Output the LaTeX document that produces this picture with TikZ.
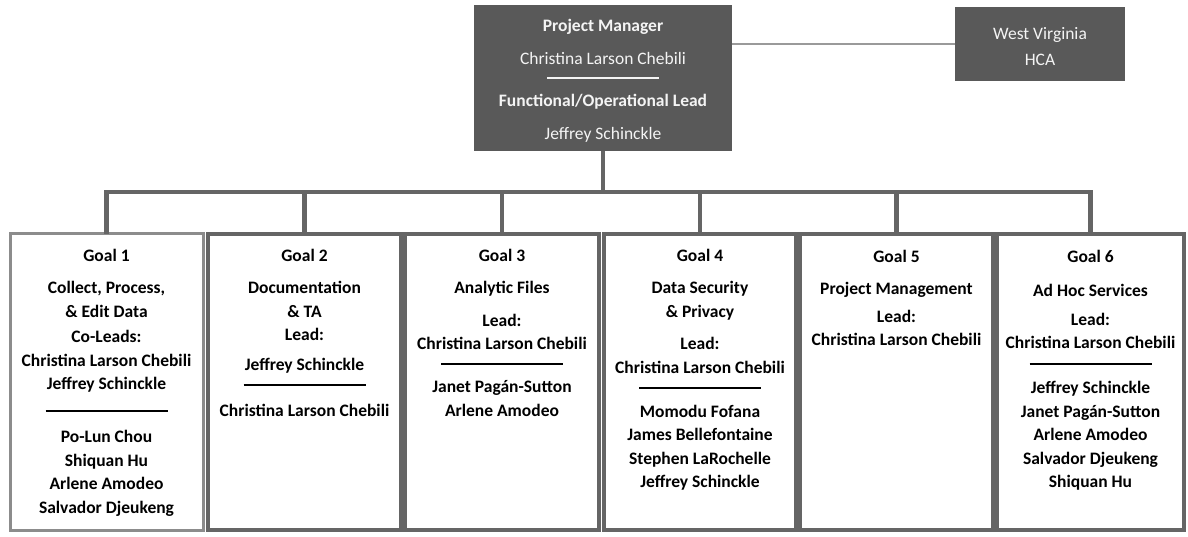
\documentclass[tikz,border=0pt]{standalone}
\usepackage{fontspec}
\setmainfont{Carlito}
\definecolor{boxfill}{HTML}{595959}
\definecolor{boxtext}{HTML}{F4F4F4}
\definecolor{frame}{HTML}{656565}
\definecolor{framelight}{HTML}{8C8C8C}
\definecolor{wire}{HTML}{9A9A9A}
% separator rule under a goal's lead(s)
\newcommand\grule{\rule[4pt]{122pt}{2pt}}
\begin{document}
\begin{tikzpicture}[x=1pt,y=-1pt,
  darkbox/.style={fill=boxfill, text=boxtext, inner sep=0pt, outer sep=0pt, align=center},
  goalbox/.style={draw=frame, line width=4pt, inner sep=0pt, outer sep=0pt, minimum height=296pt},
  goaltext/.style={anchor=north, align=center, inner sep=0pt, text=black,
                   font=\fontsize{17.5}{23.5}\selectfont\bfseries},
  link/.style={draw=frame, line width=4.5pt},
  wvlink/.style={draw=wire, line width=2pt}]
\useasboundingbox (0,0) rectangle (1188,537);

% management boxes
\node[darkbox, minimum width=258pt, minimum height=146pt,
      font=\fontsize{17.5}{33}\selectfont] (pm) at (603,78)
  {\rule{0pt}{18.5pt}\textbf{Project Manager}\\
   Christina Larson Chebili\\[-15pt]
   \rule[4pt]{112pt}{1.8pt}\\[-9pt]
   \textbf{Functional/Operational Lead}\\
   Jeffrey Schinckle};
\node[darkbox, minimum width=170pt, minimum height=74pt,
      font=\fontsize{17.5}{26}\selectfont] (wv) at (1040,44)
  {\rule{0pt}{16.5pt}West Virginia\\HCA};

% goal boxes
\node[goalbox, draw=framelight, line width=3pt, minimum width=193pt] (g1) at (106.5,382) {};
\node[goalbox, minimum width=193pt] (g2) at (304.5,382) {};
\node[goalbox, minimum width=194pt] (g3) at (502,382) {};
\node[goalbox, minimum width=192pt] (g4) at (700,382) {};
\node[goalbox, minimum width=193pt] (g5) at (896.5,382) {};
\node[goalbox, minimum width=187pt] (g6) at (1090.5,382) {};

% goal texts
\node[goaltext] (t1) at ([yshift=-15pt]g1.north)
  {Goal 1\\[9pt]
   Collect, Process,\\
   \& Edit Data\\[2pt]
   Co-Leads:\\
   Christina Larson Chebili\\
   Jeffrey Schinckle\\[3pt]
   \grule\\[3pt]
   Po-Lun Chou\\
   Shiquan Hu\\
   Arlene Amodeo\\
   Salvador Djeukeng};
\node[goaltext] (t2) at ([yshift=-15pt]g2.north)
  {Goal 2\\[9pt]
   Documentation\\
   \& TA\\
   Lead:\\[6pt]
   Jeffrey Schinckle\\[-4pt]
   \grule\\[3pt]
   Christina Larson Chebili};
\node[goaltext] (t3) at ([yshift=-15pt]g3.north)
  {Goal 3\\[9pt]
   Analytic Files\\[9pt]
   Lead:\\
   Christina Larson Chebili\\[-4pt]
   \grule\\[0pt]
   Janet Pagán-Sutton\\
   Arlene Amodeo};
\node[goaltext] (t4) at ([yshift=-15pt]g4.north)
  {Goal 4\\[9pt]
   Data Security\\
   \& Privacy\\[9pt]
   Lead:\\
   Christina Larson Chebili\\[-4pt]
   \grule\\[1pt]
   Momodu Fofana\\
   James Bellefontaine\\
   Stephen LaRochelle\\
   Jeffrey Schinckle};
\node[goaltext] (t5) at ([yshift=-16pt]g5.north)
  {Goal 5\\[9pt]
   Project Management\\[4pt]
   Lead:\\
   Christina Larson Chebili};
\node[goaltext] (t6) at ([yshift=-16pt]g6.north)
  {Goal 6\\[11pt]
   Ad Hoc Services\\[5pt]
   Lead:\\
   Christina Larson Chebili\\[-3pt]
   \grule\\[1pt]
   Jeffrey Schinckle\\
   Janet Pagán-Sutton\\
   Arlene Amodeo\\
   Salvador Djeukeng\\
   Shiquan Hu};

% connectors
\coordinate (bus) at (603,192);
\draw[wvlink] (wv.west) -- (wv.west -| pm.east);
\draw[link] (pm.south) -- (bus);
\draw[link] (g1.north) |- (bus) -| (g6.north);
\foreach \g in {g2,g3,g4,g5}
  \draw[link] (\g.north) -- (\g.north |- bus);
\end{tikzpicture}
\end{document}
